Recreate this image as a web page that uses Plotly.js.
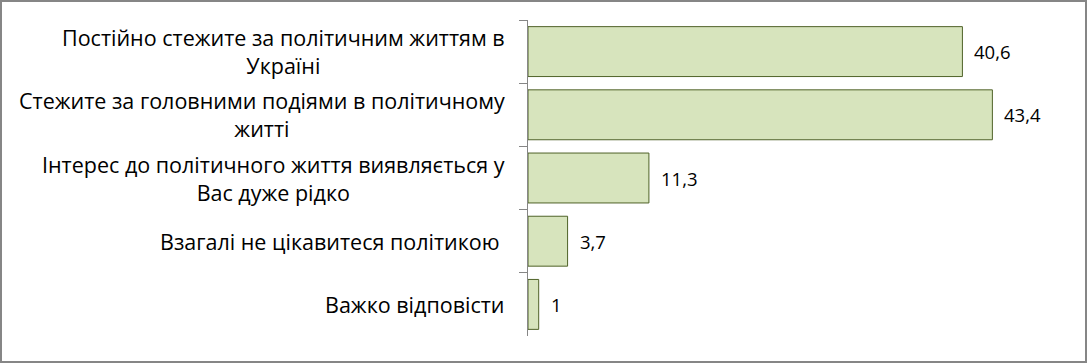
<!DOCTYPE html>
<html><head><meta charset="utf-8">
<script src="https://cdn.plot.ly/plotly-3.0.1.min.js"></script>
<style>
html,body{margin:0;padding:0;background:#fff;}
#wrap{position:relative;width:1087px;height:363px;}
#chart{position:absolute;left:0;top:0;width:1087px;height:363px;}
#frame{position:absolute;left:0;top:0;width:1087px;height:363px;box-sizing:border-box;border:2px solid #868686;pointer-events:none;}
</style></head>
<body>
<div id="wrap"><div id="chart"></div><div id="frame"></div></div>
<script>
const categories = [
  "Постійно стежите за політичним життям в<br>Україні",
  "Стежите за головними подіями в політичному<br>житті",
  "Інтерес до політичного життя виявляється у<br>Вас дуже рідко",
  "Взагалі не цікавитеся політикою ",
  "Важко відповісти"
];
const values = [40.6, 43.4, 11.3, 3.7, 1];
const catIds = ["c1","c2","c3","c4","c5"];

const font = "Open Sans, Noto Sans, sans-serif";

const trace = {
  type: "bar",
  orientation: "h",
  x: values,
  y: catIds,
  width: 0.79,
  marker: {color: "#D7E4BD", line: {color: "#4F6228", width: 1}},
  hoverinfo: "skip"
};

const annotations = [];
categories.forEach((c, i) => {
  annotations.push({
    xref: "paper", yref: "y", x: 0, y: catIds[i],
    xanchor: "right", yanchor: "middle", xshift: -21,
    text: c, showarrow: false, align: "center",
    font: {family: font, size: 21.5, color: "#000"}
  });
  annotations.push({
    xref: "x", yref: "y", x: values[i], y: catIds[i],
    xanchor: "left", yanchor: "middle", xshift: 10,
    text: String(values[i]).replace(".", ","), showarrow: false,
    font: {family: font, size: 18.5, color: "#000"}
  });
});

const layout = {
  width: 1087, height: 363,
  margin: {l: 528, r: 24, t: 20, b: 27, pad: 0},
  paper_bgcolor: "#fff", plot_bgcolor: "#fff",
  showlegend: false,
  xaxis: {range: [0, 50], visible: false, fixedrange: true},
  yaxis: {
    autorange: "reversed", type: "category",
    showticklabels: false, showgrid: false,
    showline: true, linecolor: "#868686", linewidth: 1,
    ticks: "outside", ticklen: 8, tickcolor: "#868686", tickwidth: 1,
    tickson: "boundaries", zeroline: false
  },
  annotations: annotations
};

Plotly.newPlot("chart", [trace], layout, {displayModeBar: false, staticPlot: true});
</script>
</body></html>
